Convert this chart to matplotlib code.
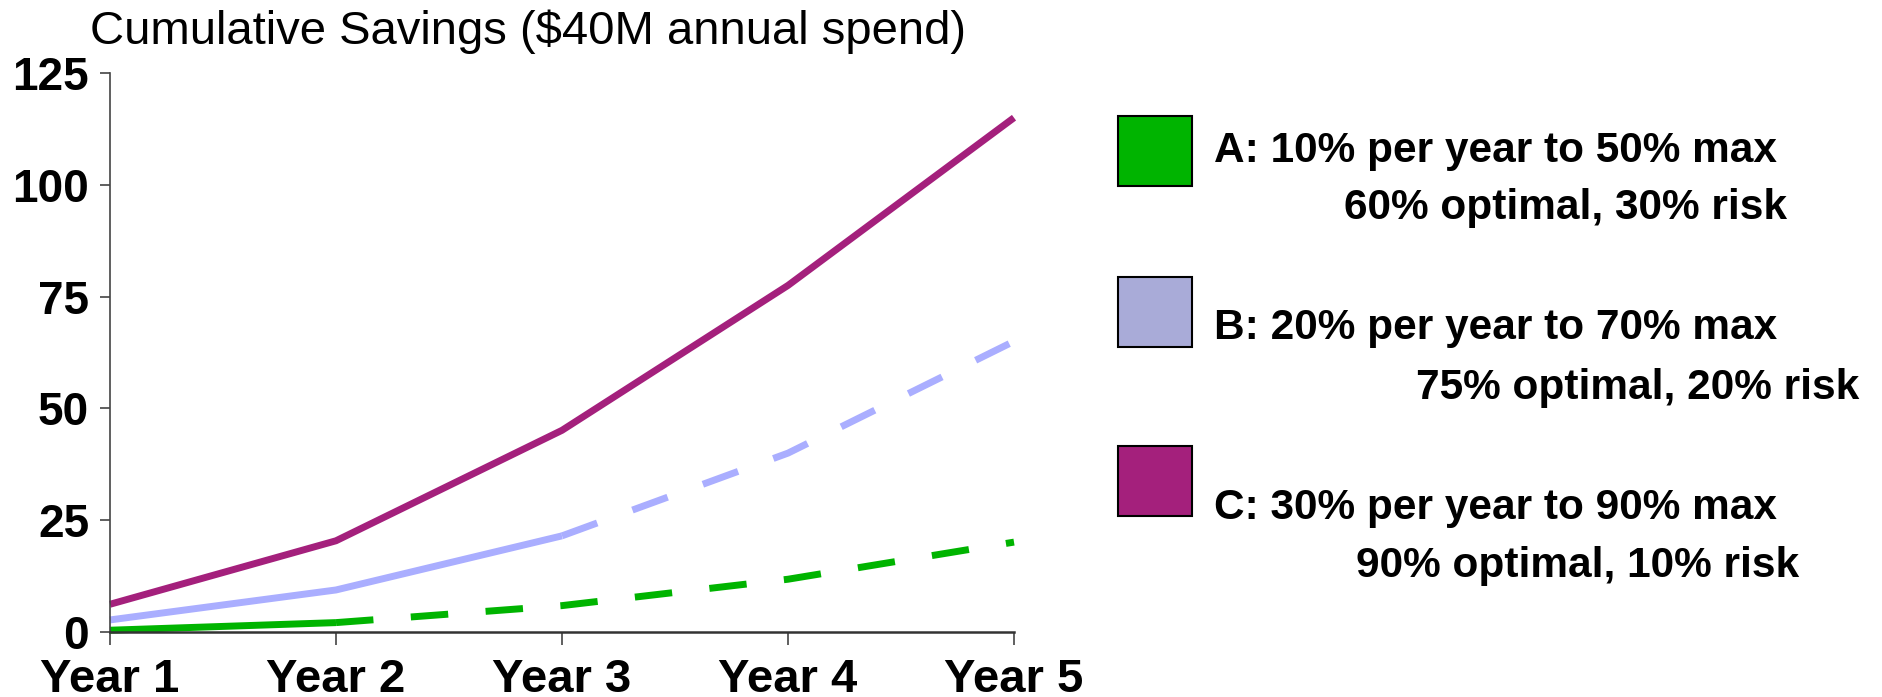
import matplotlib
matplotlib.use("Agg")
import matplotlib.pyplot as plt
from matplotlib.patches import Rectangle

# Cumulative savings in $M for each plan
years = ["Year 1", "Year 2", "Year 3", "Year 4", "Year 5"]
plan_a = [0.4, 2.1, 5.9, 11.8, 20.1]
plan_b = [2.7, 9.4, 21.5, 40.0, 65.0]
plan_c = [6.2, 20.4, 45.1, 77.5, 115.0]

# Number of leading points drawn solid; the rest is dashed
solid_upto = {"A": 2, "B": 3, "C": 5}

legend_line1 = ["A: 10% per year to 50% max",
                "B: 20% per year to 70% max",
                "C: 30% per year to 90% max"]
legend_line2 = ["60% optimal, 30% risk",
                "75% optimal, 20% risk",
                "90% optimal, 10% risk"]

title = "Cumulative Savings ($40M annual spend)"
yticks = [0, 25, 50, 75, 100, 125]

line_colors = {"A": "#00B400", "B": "#AAAEFF", "C": "#A4207C"}
patch_colors = ["#00B400", "#A9ABD8", "#A4207C"]

plt.rcParams["font.family"] = ["Liberation Sans", "DejaVu Sans"]

W, H = 1882, 697
fig = plt.figure(figsize=(W / 100, H / 100), dpi=100)
ax = fig.add_axes([110 / W, 1 - 632 / H, (1014 - 110) / W, (632 - 73) / H])

x = list(range(len(years)))
lw = 5.0
for key, vals in (("A", plan_a), ("B", plan_b), ("C", plan_c)):
    n = solid_upto[key]
    ax.plot(x[:n], vals[:n], color=line_colors[key], lw=lw,
            solid_capstyle="butt", solid_joinstyle="miter", clip_on=False)
    if n < len(vals):
        ln, = ax.plot(x[n - 1:], vals[n - 1:], color=line_colors[key], lw=lw,
                      dash_capstyle="butt", clip_on=False)
        ln.set_dashes((5.4, 5.4))

ax.set_xlim(0, len(years) - 1)
ax.set_ylim(0, 125)
ax.set_xticks(x)
ax.set_xticklabels(years, fontsize=34, fontweight="bold")
ax.set_yticks(yticks)
ax.set_yticklabels([str(v) for v in yticks], fontsize=33, fontweight="bold")

for side in ("top", "right"):
    ax.spines[side].set_visible(False)
ax.spines["left"].set_color("#444444")
ax.spines["left"].set_linewidth(1.2)
ax.spines["bottom"].set_color("#333333")
ax.spines["bottom"].set_linewidth(1.8)
ax.tick_params(axis="y", direction="out", length=7, width=1.2, color="#444444", pad=8)
ax.tick_params(axis="x", direction="out", length=9, width=1.2, color="#444444", pad=10)

fig.text(90 / W, 1 - 32 / H, title, fontsize=34, ha="left", va="center")

# Legend: swatches with two-line descriptions
patch_tops = [116, 277, 446]
line1_y = [151, 328, 508]
line2_y = [208, 388, 566]
line2_x = [1344, 1416, 1356]
for i in range(3):
    top = patch_tops[i]
    fig.add_artist(Rectangle((1118 / W, 1 - (top + 70) / H), 74 / W, 70 / H,
                             transform=fig.transFigure, facecolor=patch_colors[i],
                             edgecolor="black", linewidth=1.5))
    fig.text(1214 / W, 1 - line1_y[i] / H, legend_line1[i], fontsize=30.5,
             fontweight="bold", ha="left", va="center")
    fig.text(line2_x[i] / W, 1 - line2_y[i] / H, legend_line2[i], fontsize=30.5,
             fontweight="bold", ha="left", va="center")

fig.savefig("out.png", dpi=100)
